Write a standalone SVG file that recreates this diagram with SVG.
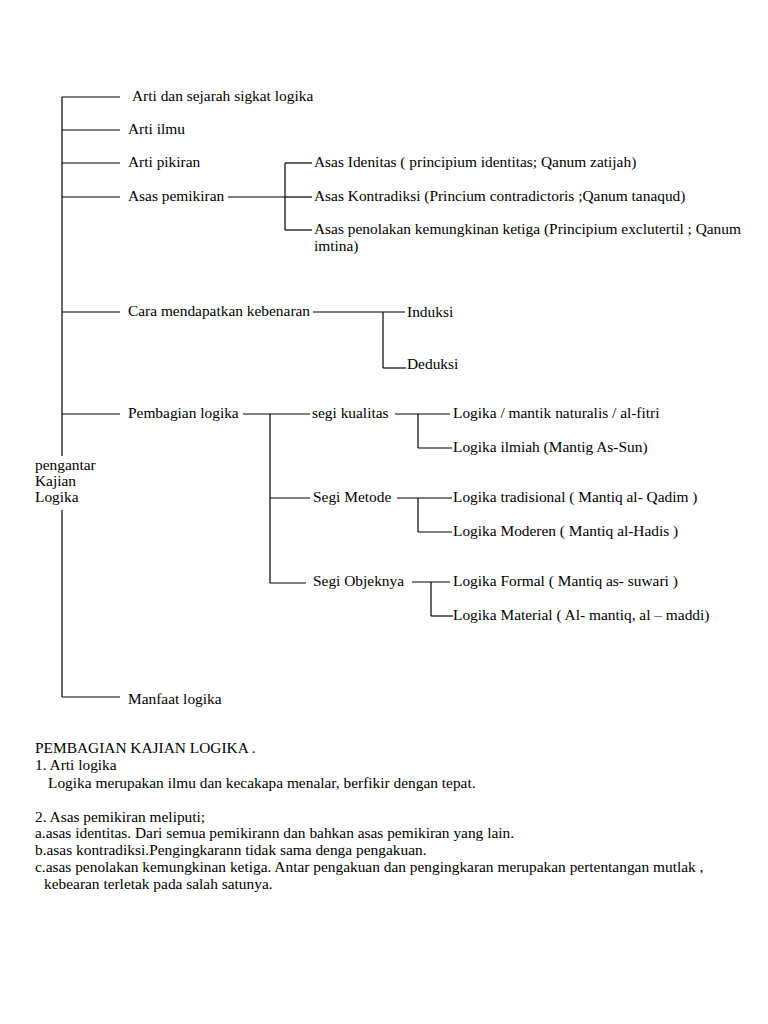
<svg xmlns="http://www.w3.org/2000/svg" width="768" height="1024" viewBox="0 0 768 1024" font-family="'Liberation Serif', 'Times New Roman', serif">
<style>
text{font-family:'Liberation Serif','Times New Roman',serif;font-size:15.4px;fill:#000}
.b{font-size:15.4px}
line{stroke:#000;stroke-width:1.2}
</style>
<rect width="768" height="1024" fill="#fff"/>
<g id="connectors">
<line x1="62" y1="97" x2="62" y2="456"/>
<line x1="62" y1="510" x2="62" y2="697"/>
<line x1="62" y1="97" x2="120" y2="97"/>
<line x1="62" y1="130" x2="120" y2="130"/>
<line x1="62" y1="163" x2="120" y2="163"/>
<line x1="62" y1="197" x2="120" y2="197"/>
<line x1="62" y1="312" x2="120" y2="312"/>
<line x1="62" y1="414" x2="120" y2="414"/>
<line x1="62" y1="697" x2="120" y2="697"/>
<line x1="228" y1="197" x2="285" y2="197"/>
<line x1="285" y1="163" x2="285" y2="230"/>
<line x1="285" y1="163" x2="312" y2="163"/>
<line x1="285" y1="197" x2="312" y2="197"/>
<line x1="285" y1="230" x2="312" y2="230"/>
<line x1="313" y1="312" x2="405" y2="312"/>
<line x1="383" y1="312" x2="383" y2="368"/>
<line x1="383" y1="368" x2="406" y2="368"/>
<line x1="243" y1="414" x2="310" y2="414"/>
<line x1="270" y1="414" x2="270" y2="583"/>
<line x1="270" y1="498" x2="310" y2="498"/>
<line x1="270" y1="583" x2="306" y2="583"/>
<line x1="395" y1="414" x2="450" y2="414"/>
<line x1="418" y1="414" x2="418" y2="448"/>
<line x1="418" y1="448" x2="452" y2="448"/>
<line x1="397" y1="498" x2="452" y2="498"/>
<line x1="418" y1="498" x2="418" y2="532"/>
<line x1="418" y1="532" x2="452" y2="532"/>
<line x1="412" y1="582" x2="450" y2="582"/>
<line x1="431" y1="582" x2="431" y2="616"/>
<line x1="431" y1="616" x2="453" y2="616"/>
</g>
<g id="root"><text x="35" y="470">pengantar</text><text x="35" y="486">Kajian</text><text x="35" y="502">Logika</text></g>
<g id="n1"><text x="132" y="101">Arti dan sejarah sigkat logika</text></g>
<g id="n2"><text x="128" y="134">Arti ilmu</text></g>
<g id="n3"><text x="128" y="167">Arti pikiran</text></g>
<g id="n4"><text x="128" y="201">Asas pemikiran</text></g>
<g id="n4a"><text x="314" y="167">Asas Idenitas ( principium identitas; Qanum zatijah)</text></g>
<g id="n4b"><text x="314" y="201">Asas Kontradiksi (Princium contradictoris ;Qanum tanaqud)</text></g>
<g id="n4c"><text x="314" y="234">Asas penolakan kemungkinan ketiga (Principium exclutertil ; Qanum</text><text x="314" y="251">imtina)</text></g>
<g id="n5"><text x="128" y="316">Cara mendapatkan kebenaran</text></g>
<g id="n5a"><text x="407" y="317">Induksi</text></g>
<g id="n5b"><text x="407" y="369">Deduksi</text></g>
<g id="n6"><text x="128" y="418">Pembagian logika</text></g>
<g id="n6a"><text x="312" y="418">segi kualitas</text></g>
<g id="n6a1"><text x="453" y="418">Logika / mantik naturalis / al-fitri</text></g>
<g id="n6a2"><text x="453" y="452">Logika ilmiah (Mantig As-Sun)</text></g>
<g id="n6b"><text x="313" y="502">Segi Metode</text></g>
<g id="n6b1"><text x="453" y="502">Logika tradisional ( Mantiq al- Qadim )</text></g>
<g id="n6b2"><text x="453" y="536">Logika Moderen ( Mantiq al-Hadis )</text></g>
<g id="n6c"><text x="313" y="586">Segi Objeknya</text></g>
<g id="n6c1"><text x="453" y="586">Logika Formal ( Mantiq as- suwari )</text></g>
<g id="n6c2"><text x="453" y="620">Logika Material ( Al- mantiq, al – maddi)</text></g>
<g id="n7"><text x="128" y="704">Manfaat logika</text></g>
<g id="notes">
<text class="b" x="35" y="753">PEMBAGIAN KAJIAN LOGIKA .</text>
<text class="b" x="35" y="770">1. Arti logika</text>
<text class="b" x="48" y="788">Logika merupakan ilmu dan kecakapa menalar, berfikir dengan tepat.</text>
<text class="b" x="35" y="822">2. Asas pemikiran meliputi;</text>
<text class="b" x="35" y="838">a.asas identitas. Dari semua pemikirann dan bahkan asas pemikiran yang lain.</text>
<text class="b" x="35" y="855">b.asas kontradiksi.Pengingkarann tidak sama denga pengakuan.</text>
<text class="b" x="35" y="872">c.asas penolakan kemungkinan ketiga. Antar pengakuan dan pengingkaran merupakan pertentangan mutlak ,</text>
<text class="b" x="44" y="889">kebearan terletak pada salah satunya.</text>
</g>
</svg>
